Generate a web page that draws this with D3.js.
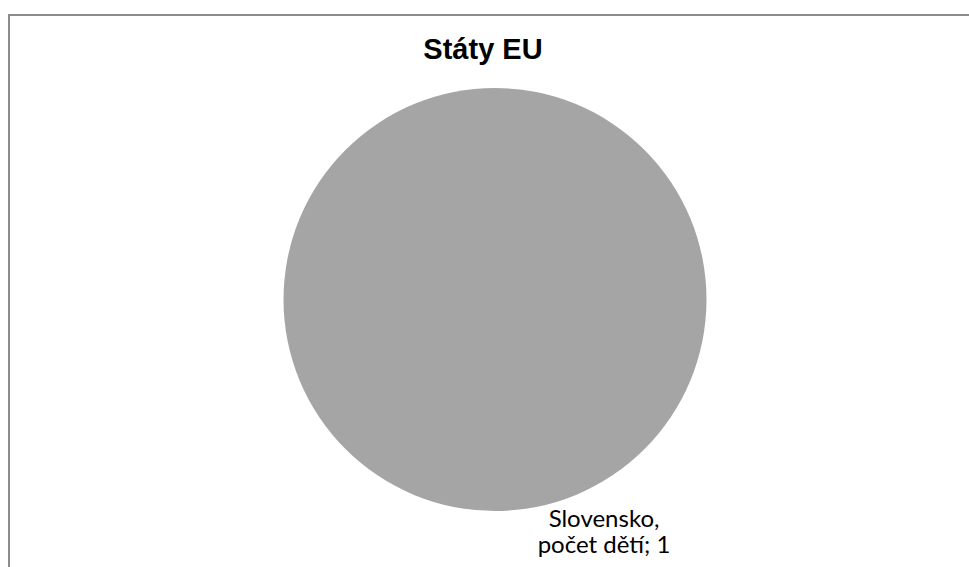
<!DOCTYPE html>
<html>
<head>
<meta charset="utf-8">
<script src="https://cdn.jsdelivr.net/npm/d3@7/dist/d3.min.js"></script>
<style>
  html, body { margin: 0; padding: 0; background: #ffffff; overflow: hidden; }
  svg { display: block; }
</style>
</head>
<body>
<svg id="chart" width="969" height="567"></svg>
<script>
// ---- data ----
const title = "Státy EU";
const categories = ["Slovensko"];
const seriesName = "počet dětí";
const values = [1];
const colors = ["#a5a5a5"];

// ---- layout ----
const cx = 495, cy = 299.5, radius = 211.5;
const labelRadius = 262, labelAngle = 155.4 * Math.PI / 180;

const svg = d3.select("#chart");

// chart frame (extends past right/bottom edges)
svg.append("rect")
  .attr("x", 9).attr("y", 15)
  .attr("width", 1100).attr("height", 700)
  .attr("fill", "#ffffff")
  .attr("stroke", "#8c8c8c")
  .attr("stroke-width", 2);

// title
svg.append("text")
  .attr("x", 483).attr("y", 59)
  .attr("text-anchor", "middle")
  .attr("font-family", "Liberation Sans, Arial, sans-serif")
  .attr("font-weight", "bold")
  .attr("font-size", 29)
  .attr("fill", "#000")
  .text(title);

const data = categories.map((c, i) => ({ name: c, value: values[i] }));
const pie = d3.pie().sort(null).value(d => d.value);
const arcs = pie(data);
const arc = d3.arc().innerRadius(0).outerRadius(radius);
const color = d3.scaleOrdinal().domain(categories).range(colors);

const g = svg.append("g").attr("transform", `translate(${cx},${cy})`);
g.selectAll("path.slice")
  .data(arcs)
  .join("path")
  .attr("class", "slice")
  .attr("d", arc)
  .attr("fill", d => color(d.data.name));

// data labels (two lines, each its own text element)
const labelArc = d3.arc().innerRadius(labelRadius).outerRadius(labelRadius);
arcs.forEach(d => {
  const [lx, ly] = labelArc.centroid({ startAngle: labelAngle, endAngle: labelAngle });
  const lines = [d.data.name + ",", seriesName + "; " + d.data.value];
  lines.forEach((line, i) => {
    g.append("text")
      .attr("x", lx)
      .attr("y", ly - 11 + i * 26.5)
      .attr("text-anchor", "middle")
      .attr("font-family", "Lato, 'Open Sans', sans-serif")
      .attr("font-size", 24)
      .attr("fill", "#000")
      .text(line);
  });
});
</script>
</body>
</html>
